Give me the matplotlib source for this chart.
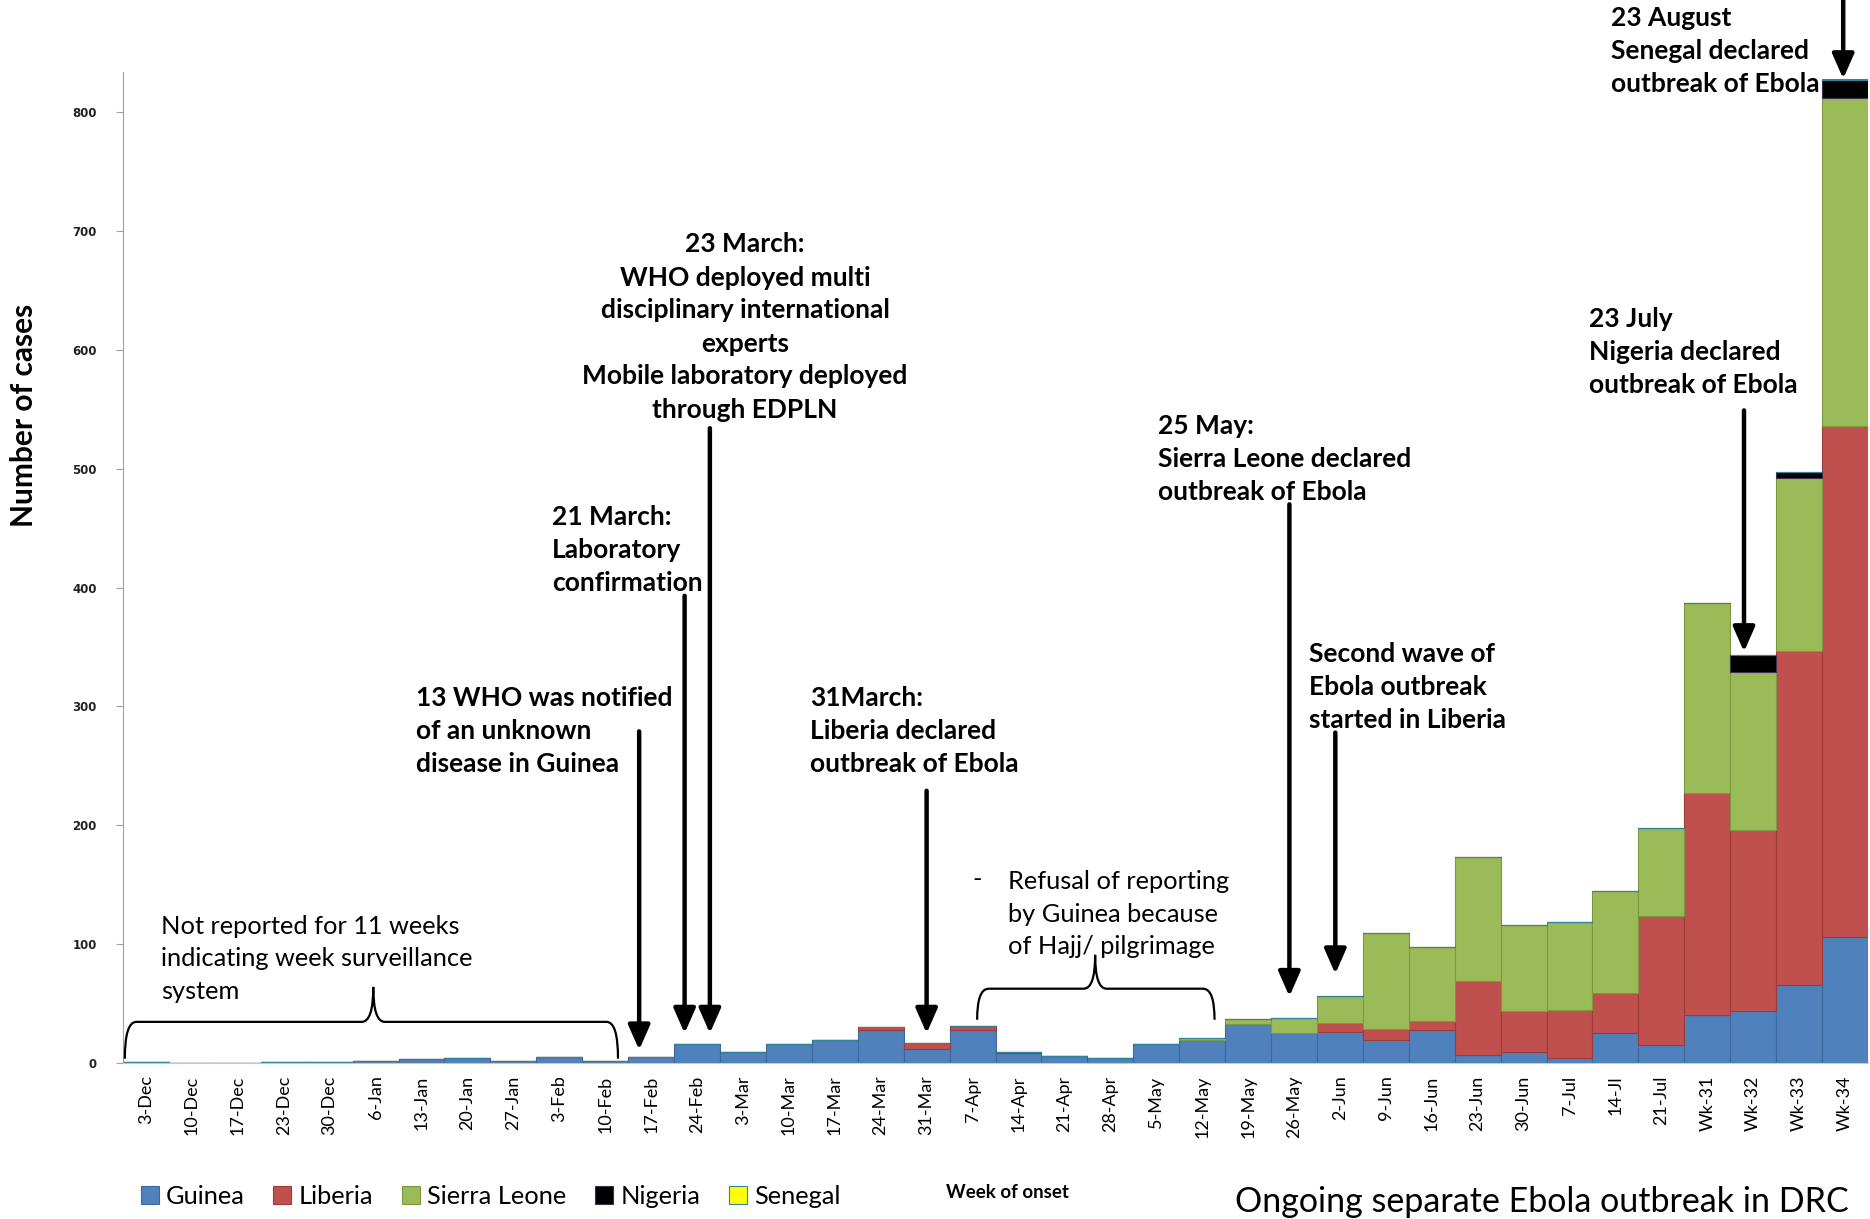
import matplotlib
matplotlib.use("Agg")
import matplotlib.pyplot as plt
import numpy as np
from matplotlib.path import Path
from matplotlib.patches import PathPatch

weeks = ["3-Dec", "10-Dec", "17-Dec", "23-Dec", "30-Dec", "6-Jan", "13-Jan", "20-Jan",
         "27-Jan", "3-Feb", "10-Feb", "17-Feb", "24-Feb", "3-Mar", "10-Mar", "17-Mar",
         "24-Mar", "31-Mar", "7-Apr", "14-Apr", "21-Apr", "28-Apr", "5-May", "12-May",
         "19-May", "26-May", "2-Jun", "9-Jun", "16-Jun", "23-Jun", "30-Jun", "7-Jul",
         "14-Jl", "21-Jul", "Wk-31", "Wk-32", "Wk-33", "Wk-34"]

guinea = [1, 0, 0, 1, 1, 2, 3, 4, 2, 5, 2, 5, 16, 9, 16, 19, 28, 12, 28, 8, 6, 4, 16, 19,
          33, 25, 26, 19, 28, 7, 9, 4, 25, 15, 40, 44, 66, 106]
liberia = [0, 0, 0, 0, 0, 0, 0, 0, 0, 0, 0, 0, 0, 0, 0, 0, 2, 5, 3, 1, 0, 0, 0, 0,
           0, 0, 8, 10, 7, 62, 35, 41, 34, 109, 187, 152, 281, 430]
sierra_leone = [0, 0, 0, 0, 0, 0, 0, 0, 0, 0, 0, 0, 0, 0, 0, 0, 0, 0, 0, 0, 0, 0, 0, 2,
                4, 13, 22, 80, 63, 104, 72, 74, 86, 74, 160, 133, 145, 276]
nigeria = [0, 0, 0, 0, 0, 0, 0, 0, 0, 0, 0, 0, 0, 0, 0, 0, 0, 0, 0, 0, 0, 0, 0, 0,
           0, 0, 0, 0, 0, 0, 0, 0, 0, 0, 0, 14, 5, 15]
senegal = [0, 0, 0, 0, 0, 0, 0, 0, 0, 0, 0, 0, 0, 0, 0, 0, 0, 0, 0, 0, 0, 0, 0, 0,
           0, 0, 0, 0, 0, 0, 0, 0, 0, 0, 0, 0, 0, 1]

series = [("Guinea", guinea, "#4F81BD", "#3D6A9E"),
          ("Liberia", liberia, "#C0504D", "#9E3B38"),
          ("Sierra Leone", sierra_leone, "#9BBB59", "#7A9A3F"),
          ("Nigeria", nigeria, "#000000", "#403152"),
          ("Senegal", senegal, "#FFFF00", "#31859C")]

FONT = "Lato"
W, H = 1870, 1219
fig = plt.figure(figsize=(W / 100, H / 100), dpi=100)
ax = fig.add_axes([123 / W, 1 - 1063 / H, (1868 - 123) / W, (1063 - 71.6) / H])

x = np.arange(len(weeks))
bottom = np.zeros(len(weeks))
handles = []
for name, vals, fc, ec in series:
    v = np.array(vals, dtype=float)
    b = ax.bar(x, v, width=1.0, bottom=bottom, color=fc, edgecolor=ec, linewidth=0.8,
               label=name, zorder=2)
    handles.append(b)
    bottom += v

ax.set_xlim(-0.5, len(weeks) - 0.5)
ax.set_ylim(0, 834)
ax.set_yticks(range(0, 801, 100))
ax.set_yticklabels([str(v) for v in range(0, 801, 100)], fontsize=8.5,
                   fontweight="bold", family="DejaVu Sans", color="#222222")
ax.set_xticks(x)
ax.set_xticklabels(weeks, rotation=90, fontsize=13, family=FONT)
ax.tick_params(axis="x", length=0, pad=9)
ax.tick_params(axis="y", length=5, color="#A0A0A0", pad=14)
for s in ["top", "right"]:
    ax.spines[s].set_visible(False)
ax.spines["left"].set_color("#A0A0A0")
ax.spines["bottom"].set_color("#C8C8C8")


def fx(px):
    return px / W


def fy(py):
    return 1 - py / H


fig.text(fx(24), fy(415), "Number of cases", rotation=90, ha="center", va="center",
         fontsize=21.5, fontweight="bold", family=FONT)

bold_kw = dict(fontsize=19, fontweight="bold", family=FONT, linespacing=1.45)
norm_kw = dict(fontsize=18.3, family=FONT, linespacing=1.5)

fig.text(fx(745), fy(327), "23 March:\nWHO deployed multi\ndisciplinary international\n"
         "experts\nMobile laboratory deployed\nthrough EDPLN", ha="center", va="center",
         multialignment="center", **bold_kw)
fig.text(fx(552), fy(550), "21 March:\nLaboratory\nconfirmation", ha="left", va="center", **bold_kw)
fig.text(fx(416), fy(731), "13 WHO was notified\nof an unknown\ndisease in Guinea",
         ha="left", va="center", **bold_kw)
fig.text(fx(810), fy(731), "31March:\nLiberia declared\noutbreak of Ebola",
         ha="left", va="center", **bold_kw)
fig.text(fx(1158), fy(459), "25 May:\nSierra Leone declared\noutbreak of Ebola",
         ha="left", va="center", **bold_kw)
fig.text(fx(1309), fy(687), "Second wave of\nEbola outbreak\nstarted in Liberia",
         ha="left", va="center", **bold_kw)
fig.text(fx(1589), fy(352), "23 July\nNigeria declared\noutbreak of Ebola",
         ha="left", va="center", **bold_kw)
fig.text(fx(1611), fy(51), "23 August\nSenegal declared\noutbreak of Ebola",
         ha="left", va="center", **bold_kw)
fig.text(fx(161), fy(959), "Not reported for 11 weeks\nindicating week surveillance\nsystem",
         ha="left", va="center", **norm_kw)
fig.text(fx(972), fy(880), "-", ha="left", va="center", **norm_kw)
fig.text(fx(1008), fy(914), "Refusal of reporting\nby Guinea because\nof Hajj/ pilgrimage",
         ha="left", va="center", **norm_kw)

# arrows (data coordinates: x = week index, y = cases)
arrows = [(10.74, 279, 11), (11.73, 393, 25), (12.28, 534, 25), (17.0, 229, 25),
          (24.9, 470, 56), (25.9, 278, 75), (34.8, 549, 346), (36.96, 895, 828)]
for ax_x, y0, y1 in arrows:
    ax.annotate("", xy=(ax_x, y1), xytext=(ax_x, y0),
                arrowprops=dict(arrowstyle="-|>,head_length=0.5,head_width=0.22",
                                lw=3.2, color="black", mutation_scale=30,
                                shrinkA=0, shrinkB=0),
                annotation_clip=False, zorder=5)


def brace(x0, x1, xt, yend, yh, ytip, dx=0.25):
    verts = [(x0, yend), (x0, yh), (x0 + dx, yh),
             (xt - dx, yh), (xt, yh), (xt, ytip),
             (xt, yh), (xt + dx, yh),
             (x1 - dx, yh), (x1, yh), (x1, yend)]
    codes = [Path.MOVETO, Path.CURVE3, Path.CURVE3,
             Path.LINETO, Path.CURVE3, Path.CURVE3,
             Path.CURVE3, Path.CURVE3,
             Path.LINETO, Path.CURVE3, Path.CURVE3]
    ax.add_patch(PathPatch(Path(verts, codes), fill=False, lw=1.6, color="black",
                           zorder=4, clip_on=False))


brace(-0.46, 10.28, 4.95, 3.6, 34.6, 64)
brace(18.1, 23.27, 20.67, 36.4, 62.5, 91)

fig.legend(handles=handles, labels=[s[0] for s in series], loc="center left",
           bbox_to_anchor=(fx(128), fy(1196)), ncol=5, frameon=False, borderpad=0,
           handlelength=0.7, handleheight=0.7, handletextpad=0.3, columnspacing=1.12,
           prop={"family": FONT, "size": 18.3})

fig.text(fx(1008), fy(1193), "Week of onset", ha="center", va="center", fontsize=13.5,
         fontweight="bold", family=FONT)
fig.text(fx(1849), fy(1202), "Ongoing separate Ebola outbreak in DRC", ha="right",
         va="center", fontsize=24.5, family=FONT)

fig.savefig("out.png", dpi=100)
